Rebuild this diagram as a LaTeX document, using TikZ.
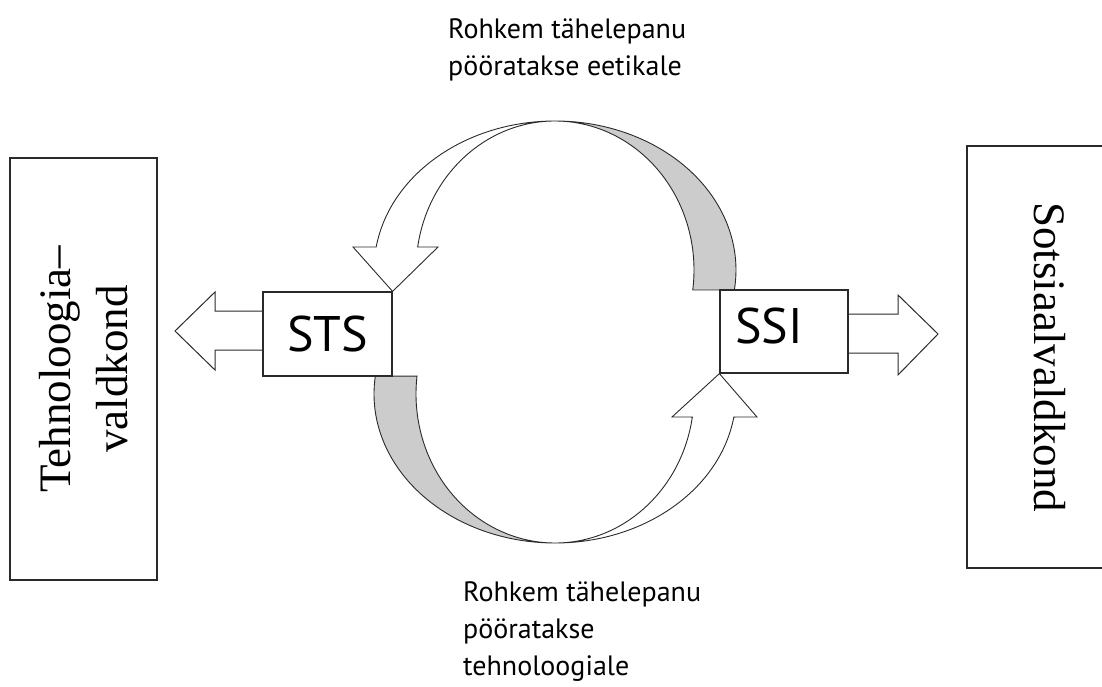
\documentclass[tikz,border=0pt]{standalone}
\usepackage{fontspec}
\setmainfont{Liberation Serif}
\newfontfamily\labelsans{PT Sans}
\usetikzlibrary{calc,positioning}
\definecolor{ribbongray}{HTML}{CCCCCC}
\definecolor{linegray}{HTML}{2A2A2A}
\tikzset{
  domainbox/.style={draw=linegray, line width=1.3pt, fill=white, inner sep=0pt, align=center, font=\fontsize{45}{57}\selectfont},
  stagebox/.style={draw=linegray, line width=1.2pt, fill=white, inner sep=0pt, font=\labelsans\fontsize{50}{60}\selectfont},
  notelabel/.style={inner sep=0pt, align=left, anchor=north west, font=\labelsans\fontsize{28}{37}\selectfont},
  blockarrow/.style={draw=linegray, fill=white, line width=1pt, line join=miter},
  ribbonfront/.style={draw=linegray, fill=white, line width=0.9pt},
  ribbonback/.style={draw=linegray, fill=ribbongray, line width=0.9pt}
}
\begin{document}
\begin{tikzpicture}[x=1pt, y=-1pt]
  \clip (0,0) rectangle (1102,687);
  % domains
  \node[domainbox, rotate=90, minimum width=422pt, minimum height=147pt] (tech) at (83.5,369) {Tehnoloogia–\\valdkond};
  \node[domainbox, rotate=-90, minimum width=422pt, minimum height=166pt] (soc) at (1050,357) {Sotsiaalvaldkond};
  % stages
  \node[stagebox, minimum width=129pt, minimum height=84pt] (sts) at (327.5,334) {STS};
  \node[stagebox, minimum width=128pt, minimum height=83pt] (ssi) at (784,331.5) {\raisebox{6pt}[\height][\depth]{SSI}\hspace*{30pt}};
  % ellipse centres of the two ribbons
  \coordinate (upc) at (555,270);
  \coordinate (loc) at (555,394);
  % upper ribbon
  \filldraw[ribbonback] ($(upc)+(7.7:181 and 149)$) arc[start angle=7.7, end angle=-90, x radius=181, y radius=149]
    arc[start angle=-90, end angle=7.7, x radius=139, y radius=149] -- cycle;
  \filldraw[ribbonfront] ($(upc)+(-90:181 and 149)$) arc[start angle=-90, end angle=-171.1, x radius=181, y radius=149]
    -- (353,247) -- (sts.north east) -- (438,247) -- ($(upc)+(-171.1:139 and 149)$)
    arc[start angle=-171.1, end angle=-90, x radius=139, y radius=149] -- cycle;
  % lower ribbon
  \filldraw[ribbonback] ($(loc)+(186.9:181 and 149)$) arc[start angle=186.9, end angle=90, x radius=181, y radius=149]
    arc[start angle=90, end angle=186.9, x radius=139, y radius=149] -- cycle;
  \filldraw[ribbonfront] ($(loc)+(90:181 and 149)$) arc[start angle=90, end angle=8.9, x radius=181, y radius=149]
    -- (757,417) -- (ssi.south west) -- (672,417) -- ($(loc)+(8.9:139 and 149)$)
    arc[start angle=8.9, end angle=90, x radius=139, y radius=149] -- cycle;
  % block arrows out of the stages
  \draw[blockarrow] ($(sts.west)+(0,-23)$) -- (215,311) -- (215,292) -- (175,331) -- (215,370) -- (215,350) -- ($(sts.west)+(0,16)$);
  \draw[blockarrow] ($(ssi.east)+(0,-17.5)$) -- (898,314) -- (898,295) -- (938,334) -- (898,375) -- (898,353) -- ($(ssi.east)+(0,21.5)$);
  % redraw stage borders over the ribbon ends
  \draw[linegray, line width=1.2pt] (sts.north west) rectangle (sts.south east);
  \draw[linegray, line width=1.2pt] (ssi.north west) rectangle (ssi.south east);
  % notes
  \node[notelabel] (ethicsnote) at (448,18) {Rohkem tähelepanu\\pööratakse eetikale};
  \node[notelabel] (technote) at (463,581) {Rohkem tähelepanu\\pööratakse\\tehnoloogiale};
\end{tikzpicture}
\end{document}
